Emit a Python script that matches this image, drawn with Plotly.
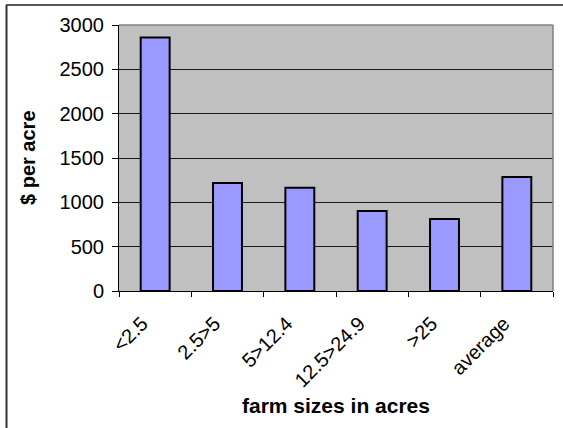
import plotly.graph_objects as go

# Land value per acre by farm size class
categories = ["<2.5", "2.5>5", "5>12.4", "12.5>24.9", ">25", "average"]
values = [2860, 1218, 1165, 902, 812, 1285]
y_ticks = [0, 500, 1000, 1500, 2000, 2500, 3000]

W, H = 563, 428
ML, MR, MT, MB = 119, 10, 25, 137
PW, PH = W - ML - MR, H - MT - MB


def px_x(x):
    """Pixel column -> paper x."""
    return (x - ML) / PW


def px_y(y):
    """Pixel row (from top) -> paper y."""
    return (H - MB - y) / PH


FONT = "Liberation Sans, Arial, sans-serif"

fig = go.Figure(
    go.Bar(
        x=categories,
        y=values,
        width=0.4,
        marker=dict(color="#9999FF", line=dict(color="#000000", width=2)),
        hoverinfo="x+y",
    )
)

fig.update_layout(
    width=W,
    height=H,
    margin=dict(l=ML, r=MR, t=MT, b=MB, pad=0),
    paper_bgcolor="white",
    plot_bgcolor="#C0C0C0",
    showlegend=False,
    font=dict(family=FONT, size=19, color="#000000"),
    xaxis=dict(
        type="category",
        tickangle=-45,
        tickson="boundaries",
        ticks="outside",
        ticklen=5,
        tickcolor="#000000",
        showline=True,
        linecolor="#000000",
        linewidth=1,
        showgrid=False,
        tickfont=dict(family=FONT, size=20),
        ticklabelstandoff=12,
        ticklabelshift=-13,
        automargin=False,
    ),
    yaxis=dict(
        range=[0, 3000],
        tickvals=y_ticks,
        ticks="outside",
        ticklen=6,
        tickcolor="#000000",
        showline=True,
        linecolor="#000000",
        linewidth=1,
        showgrid=True,
        gridcolor="#1a1a1a",
        gridwidth=1,
        zeroline=False,
        tickfont=dict(family=FONT, size=20),
        ticklabelstandoff=4,
        automargin=False,
    ),
    shapes=[
        # grey plot-area border on the top and right
        dict(type="line", xref="paper", yref="paper", x0=0, x1=1, y0=1, y1=1,
             line=dict(color="#808080", width=1.5)),
        dict(type="line", xref="paper", yref="paper", x0=1, x1=1, y0=0, y1=1,
             line=dict(color="#808080", width=1.5)),
        # chart-area frame (top and left edges)
        dict(type="line", xref="paper", yref="paper",
             x0=px_x(6), x1=px_x(575), y0=px_y(5), y1=px_y(5),
             line=dict(color="#222222", width=1.5)),
        dict(type="line", xref="paper", yref="paper",
             x0=px_x(6.5), x1=px_x(6.5), y0=px_y(5), y1=px_y(440),
             line=dict(color="#333333", width=2)),
    ],
    annotations=[
        dict(text="<b>farm sizes in acres</b>", xref="paper", yref="paper",
             x=0.5, y=px_y(405), showarrow=False,
             font=dict(family=FONT, size=21), xanchor="center", yanchor="middle"),
        dict(text="<b>$ per acre</b>", xref="paper", yref="paper",
             x=px_x(28), y=0.5, textangle=-90, showarrow=False,
             font=dict(family=FONT, size=20), xanchor="center", yanchor="middle"),
    ],
)

fig.write_html("out.html")
